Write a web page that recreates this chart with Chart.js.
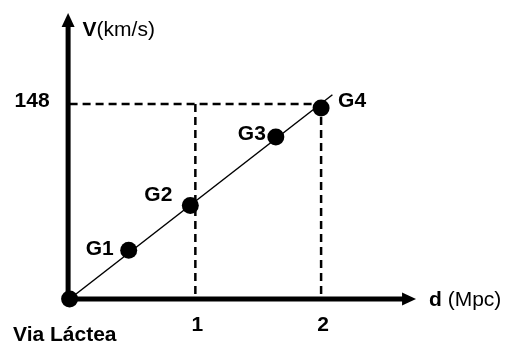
<!DOCTYPE html>
<html>
<head>
<meta charset="utf-8">
<script src="https://cdn.jsdelivr.net/npm/chart.js@4/dist/chart.umd.min.js"></script>
<style>
  html, body { margin: 0; padding: 0; background: #fff; }
  #wrap { width: 506px; height: 342px; position: relative; }
</style>
</head>
<body>
<div id="wrap"><canvas id="hubble"></canvas></div>
<script>
// valores
const pointNames = ['Via Láctea', 'G1', 'G2', 'G3', 'G4'];
const distMpc = [0, 0.47, 0.96, 1.64, 2.0];
const velKms = [0, 37, 71, 123, 145];
const fitX = [0, 2.09];
const fitY = [0, 155];
const xTicks = [1, 2];
const yTicks = [148];

// deslocamento dos rótulos (px) em relação a cada ponto
const labelOffsets = [null, [-15, -3, 'right'], [-18, -12, 'right'], [-10, -4, 'right'], [17, -8, 'left']];

const BOLD = 'bold 21px "Liberation Sans", Arial, sans-serif';
const NORMAL = '21px "Liberation Sans", Arial, sans-serif';

function txt(ctx, s, x, yc, font, align) {
    ctx.font = font;
    ctx.textAlign = align || 'left';
    ctx.textBaseline = 'alphabetic';
    ctx.fillText(s, x, yc + 7.5);
    return ctx.measureText(s).width;
}

const axesPlugin = {
    id: 'axes',
    beforeDatasetsDraw(chart) {
        const ctx = chart.ctx;
        const x = chart.scales.x, y = chart.scales.y;
        const x0 = x.getPixelForValue(0) - 1.5, y0 = y.getPixelForValue(0);
        const xEnd = x.getPixelForValue(2.755), yEnd = y.getPixelForValue(217);
        ctx.save();
        ctx.strokeStyle = '#000';
        ctx.fillStyle = '#000';
        ctx.lineWidth = 5;
        ctx.beginPath();
        ctx.moveTo(x0, y0);
        ctx.lineTo(xEnd - 10, y0);
        ctx.moveTo(x0, y0);
        ctx.lineTo(x0, yEnd + 10);
        ctx.stroke();
        // pontas das setas
        ctx.beginPath();
        ctx.moveTo(xEnd, y0);
        ctx.lineTo(xEnd - 14, y0 - 6.5);
        ctx.lineTo(xEnd - 14, y0 + 6.5);
        ctx.closePath();
        ctx.fill();
        ctx.beginPath();
        ctx.moveTo(x0, yEnd);
        ctx.lineTo(x0 - 6.5, yEnd + 14);
        ctx.lineTo(x0 + 6.5, yEnd + 14);
        ctx.closePath();
        ctx.fill();
        ctx.restore();
    },
    afterDraw(chart) {
        const ctx = chart.ctx;
        const x = chart.scales.x, y = chart.scales.y;
        const x0 = x.getPixelForValue(0), y0 = y.getPixelForValue(0);
        ctx.save();
        ctx.fillStyle = '#000';
        xTicks.forEach(t => txt(ctx, String(t), x.getPixelForValue(t) + 2, y0 + 24, BOLD, 'center'));
        yTicks.forEach(t => txt(ctx, String(t), x0 - 20, y.getPixelForValue(t) - 4, BOLD, 'right'));
        // nomes das galáxias
        pointNames.forEach((n, i) => {
            const off = labelOffsets[i];
            if (!off) return;
            txt(ctx, n, x.getPixelForValue(distMpc[i]) + off[0], y.getPixelForValue(velKms[i]) + off[1], BOLD, off[2]);
        });
        txt(ctx, pointNames[0], 13, y0 + 34, BOLD, 'left');
        // títulos dos eixos
        let w = txt(ctx, 'V', x0 + 13, 28, BOLD, 'left');
        txt(ctx, '(km/s)', x0 + 13 + w, 28, NORMAL, 'left');
        w = txt(ctx, 'd', 429, y0 - 1, BOLD, 'left');
        txt(ctx, ' (Mpc)', 429 + w, y0 - 1, NORMAL, 'left');
        ctx.restore();
    }
};

const dashStyle = { borderColor: '#000', borderWidth: 2.5, borderDash: [8, 5], pointRadius: 0, showLine: true, fill: false, clip: false };
const guides = xTicks.map(t => Object.assign({ data: [{ x: t, y: yTicks[0] }, { x: t, y: 0 }] }, dashStyle));
guides.push(Object.assign({ data: [{ x: 0, y: yTicks[0] }, { x: xTicks[xTicks.length - 1], y: yTicks[0] }] }, dashStyle));

new Chart(document.getElementById('hubble'), {
    type: 'scatter',
    data: {
        datasets: [
            ...guides,
            {
                data: fitX.map((v, i) => ({ x: v, y: fitY[i] })),
                showLine: true, borderColor: '#000', borderWidth: 1.5, pointRadius: 0, clip: false
            },
            {
                data: distMpc.map((v, i) => ({ x: v, y: velKms[i] })),
                backgroundColor: '#000', borderColor: '#000', pointRadius: 8.5, borderWidth: 0, clip: false
            }
        ]
    },
    options: {
        responsive: true,
        maintainAspectRatio: false,
        animation: false,
        events: [],
        layout: { padding: { left: 69.6, right: 59.15, top: 9.1, bottom: 43 } },
        plugins: { legend: { display: false }, tooltip: { enabled: false } },
        scales: {
            x: { type: 'linear', min: 0, max: 3, display: false },
            y: { type: 'linear', min: 0, max: 220, display: false }
        }
    },
    plugins: [axesPlugin]
});
</script>
</body>
</html>
